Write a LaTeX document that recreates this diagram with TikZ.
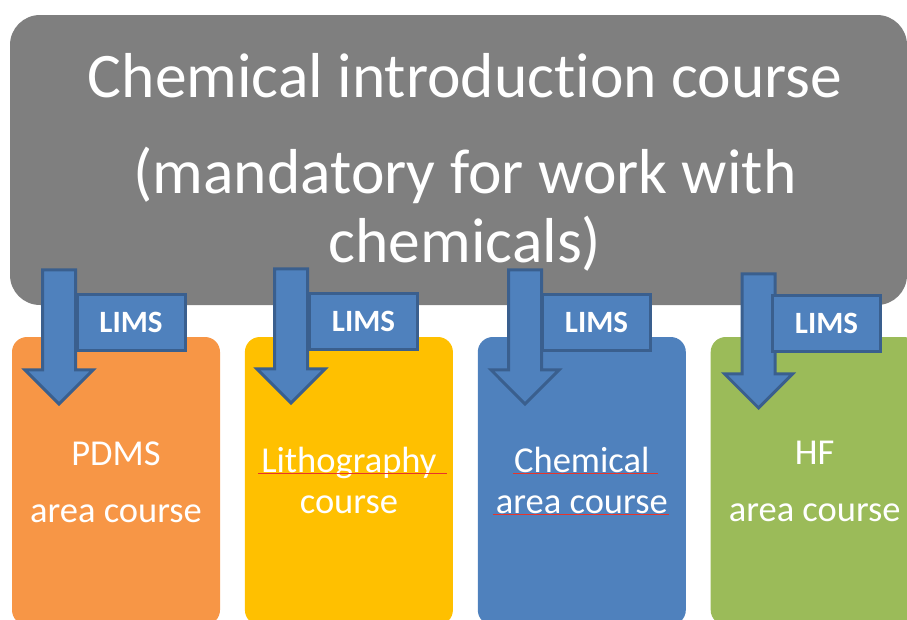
\documentclass[tikz,border=0pt]{standalone}
\usepackage{fontspec}
\setmainfont{Carlito}[Ligatures=NoCommon]
\usetikzlibrary{positioning,shapes.arrows}
\definecolor{titlegray}{HTML}{7F7F7F}
\definecolor{pdmsorange}{HTML}{F79646}
\definecolor{lithoyellow}{HTML}{FFC000}
\definecolor{chemblue}{HTML}{4F81BD}
\definecolor{hfgreen}{HTML}{9BBB59}
\definecolor{limsfill}{HTML}{4F81BD}
\definecolor{limsline}{HTML}{3A5F8E}
\definecolor{spellred}{HTML}{E8342A}

\begin{document}
\begin{tikzpicture}[x=1pt,y=-1pt,node distance=24.5pt,
    titlebox/.style={fill=titlegray, rounded corners=30pt, minimum width=897pt, minimum height=290pt},
    titletext/.style={text=white, align=center, inner sep=0pt, font=\fontsize{63.5}{69}\selectfont},
    coursebox/.style={fill=#1, rounded corners=15pt, minimum width=208pt, minimum height=288pt, inner sep=0pt},
    coursetext/.style={text=white, align=center, inner sep=0pt, font=\fontsize{36.5}{#1}\selectfont},
    downarrow/.style={single arrow, shape border rotate=270, draw=limsline, fill=limsfill, line width=3pt,
        inner sep=15pt, minimum height=134pt, minimum width=65pt, single arrow head extend=17.5pt, anchor=tip},
    limsbox/.style={draw=limsline, fill=limsfill, line width=3pt, minimum width=108pt, minimum height=56pt,
        inner sep=0pt, text=white, font=\bfseries\fontsize{31}{32}\selectfont},
    spellmark/.style={spellred, line width=0.6pt}]
            \useasboundingbox (0,0) rectangle (907,619);
            \clip (0,0) rectangle (907,619);

            \node[titlebox] (intro) at (458.5,160) {};
            \node[titletext, anchor=north] (intro_text) at (465,53)
                {Chemical introduction course\\[27pt] (mandatory for work with\\ chemicals)};

            \node[coursebox=pdmsorange] (pdms) at (116,481) {};
            \node[coursebox=lithoyellow] (litho) [right=of pdms] {};
            \node[coursebox=chemblue] (chem) [right=of litho] {};
            \node[coursebox=hfgreen] (hf) [right=of chem] {};

            \node[coursetext=57, anchor=north] (pdms_text) [below=104.5pt of pdms.north] {PDMS\\ area course};
            \node[coursetext=41, anchor=north] (litho_text) [below=110pt of litho.north] {Lithography\\ course};
            \node[coursetext=41, anchor=north] (chem_text) [below=110pt of chem.north] {Chemical\\ area course};
            \node[coursetext=57, anchor=north] (hf_text) [below=104.5pt of hf.north] {HF\\ area course};

            \draw[spellmark] (258,473) -- (447,473);
            \draw[spellmark] (513,473) -- (658,473);
            \draw[spellmark] (493,514) -- (669,514);

            \node[downarrow] (arrow_1) at (59,406) {};
            \node[downarrow] (arrow_2) at (291,405) {};
            \node[downarrow] (arrow_3) at (525,406) {};
            \node[downarrow] (arrow_4) at (758.5,410) {};

            \node[limsbox] (lims_1) at (131,322.5) {LIMS};
            \node[limsbox] (lims_2) at (363.5,321.5) {LIMS};
            \node[limsbox] (lims_3) at (596.5,322.5) {LIMS};
            \node[limsbox] (lims_4) at (826.5,323) {LIMS};
        \end{tikzpicture}
\end{document}
